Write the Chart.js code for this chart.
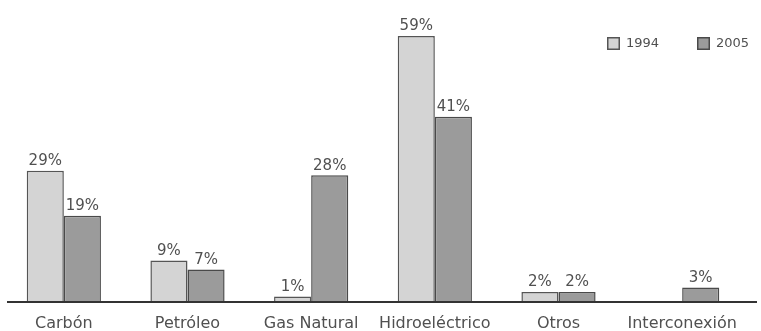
<!DOCTYPE html>
<html>
<head>
<meta charset="utf-8">
<script src="https://cdn.jsdelivr.net/npm/chart.js@4/dist/chart.umd.min.js"></script>
<style>
  html, body { margin: 0; padding: 0; background: #fff; }
  #wrap { width: 761px; height: 331px; }
</style>
</head>
<body>
<div id="wrap"><canvas id="c" width="761" height="331"></canvas></div>
<script>
const categories = ['Carbón', 'Petróleo', 'Gas Natural', 'Hidroeléctrico', 'Otros', 'Interconexión'];
const series1994 = [29, 9, 1, 59, 2, null];
const series2005 = [19, 7, 28, 41, 2, 3];
const seriesNames = ['1994', '2005'];

const FONT = '"DejaVu Sans", Lato, sans-serif';
const TEXT = '#505050';

// Value labels above each bar
const valueLabels = {
  id: 'valueLabels',
  afterDatasetsDraw(chart) {
    const ctx = chart.ctx;
    ctx.save();
    ctx.font = '15px ' + FONT;
    ctx.fillStyle = TEXT;
    ctx.textAlign = 'center';
    ctx.textBaseline = 'bottom';
    chart.data.datasets.forEach((ds, i) => {
      chart.getDatasetMeta(i).data.forEach((bar, j) => {
        const v = ds.data[j];
        if (v === null || v === undefined) return;
        ctx.fillText(v + '%', bar.x, bar.y - 2);
      });
    });
    ctx.restore();
  }
};

// Horizontal base line under the bars
const baseLine = {
  id: 'baseLine',
  afterDatasetsDraw(chart) {
    const ctx = chart.ctx;
    const y = chart.scales.y.getPixelForValue(0);
    ctx.save();
    ctx.strokeStyle = '#333';
    ctx.lineWidth = 2;
    ctx.beginPath();
    ctx.moveTo(7, y + 1);
    ctx.lineTo(757, y + 1);
    ctx.stroke();
    ctx.restore();
  }
};

// Legend in the upper right corner
const cornerLegend = {
  id: 'cornerLegend',
  afterDraw(chart) {
    const ctx = chart.ctx;
    const items = [{ x: 607 }, { x: 697 }];
    ctx.save();
    ctx.font = '13px ' + FONT;
    ctx.textBaseline = 'middle';
    ctx.textAlign = 'left';
    chart.data.datasets.forEach((ds, i) => {
      const x = items[i].x, y = 37;
      ctx.fillStyle = ds.backgroundColor;
      ctx.fillRect(x, y, 13, 13);
      ctx.strokeStyle = ds.borderColor;
      ctx.lineWidth = 1.5;
      ctx.strokeRect(x + 0.75, y + 0.75, 11.5, 11.5);
      ctx.fillStyle = TEXT;
      ctx.fillText(ds.label, x + 19, y + 7);
    });
    ctx.restore();
  }
};

new Chart(document.getElementById('c'), {
  type: 'bar',
  data: {
    labels: categories,
    datasets: [
      {
        label: seriesNames[0],
        data: series1994,
        backgroundColor: '#d4d4d4',
        borderColor: '#555',
        borderWidth: 1.5
      },
      {
        label: seriesNames[1],
        data: series2005,
        backgroundColor: '#9b9b9b',
        borderColor: '#4a4a4a',
        borderWidth: 1.5
      }
    ]
  },
  options: {
    responsive: false,
    animation: false,
    layout: { padding: { left: 2, right: 17, top: 0, bottom: 0 } },
    plugins: {
      legend: { display: false },
      tooltip: { enabled: false }
    },
    datasets: {
      bar: { categoryPercentage: 0.6, barPercentage: 1.0, skipNull: false }
    },
    scales: {
      x: {
        grid: { display: false, drawTicks: false },
        border: { display: false },
        afterFit(scale) { scale.height = 30; },
        ticks: {
          color: TEXT,
          font: { family: FONT, size: 16 },
          padding: 13,
          maxRotation: 0,
          autoSkip: false
        }
      },
      y: {
        display: false,
        min: 0,
        max: 67
      }
    }
  },
  plugins: [valueLabels, baseLine, cornerLegend]
});
</script>
</body>
</html>
